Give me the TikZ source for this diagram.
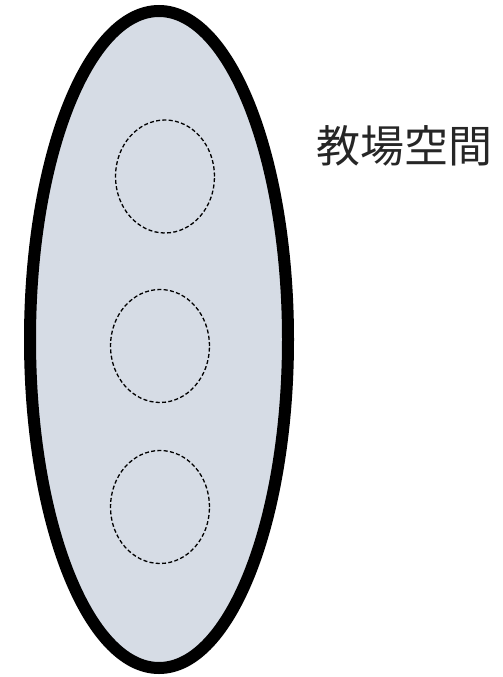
\documentclass[tikz,border=0pt]{standalone}
\usepackage{fontspec}
\newfontfamily\jpfont{Noto Sans CJK JP}
\usetikzlibrary{shapes.geometric}
\definecolor{spacefill}{RGB}{214,220,229}
\tikzset{
  space/.style={ellipse, draw=black, line width=12pt, fill=spacefill, inner sep=0pt, outer sep=0pt, minimum width=258pt, minimum height=657pt},
  seat/.style={ellipse, draw=black, line width=1.3pt, dash pattern=on 4pt off 2.3pt, inner sep=0pt, minimum width=99pt, minimum height=113pt},
  lbl/.style={font=\jpfont\fontsize{44pt}{50pt}\selectfont, inner sep=0pt, text=black!85}
}
\begin{document}
\begin{tikzpicture}[x=1pt,y=-1pt]
\useasboundingbox (0,0) rectangle (503,677);
\node[space] (room) at (159,339.5) {};
\node[seat] (s1) at (165,176.5) {};
\node[seat] (s2) at (160,346) {};
\node[seat] (s3) at (160,507) {};
\node[lbl] (label) at (404,146) {教場空間};
\end{tikzpicture}
\end{document}
